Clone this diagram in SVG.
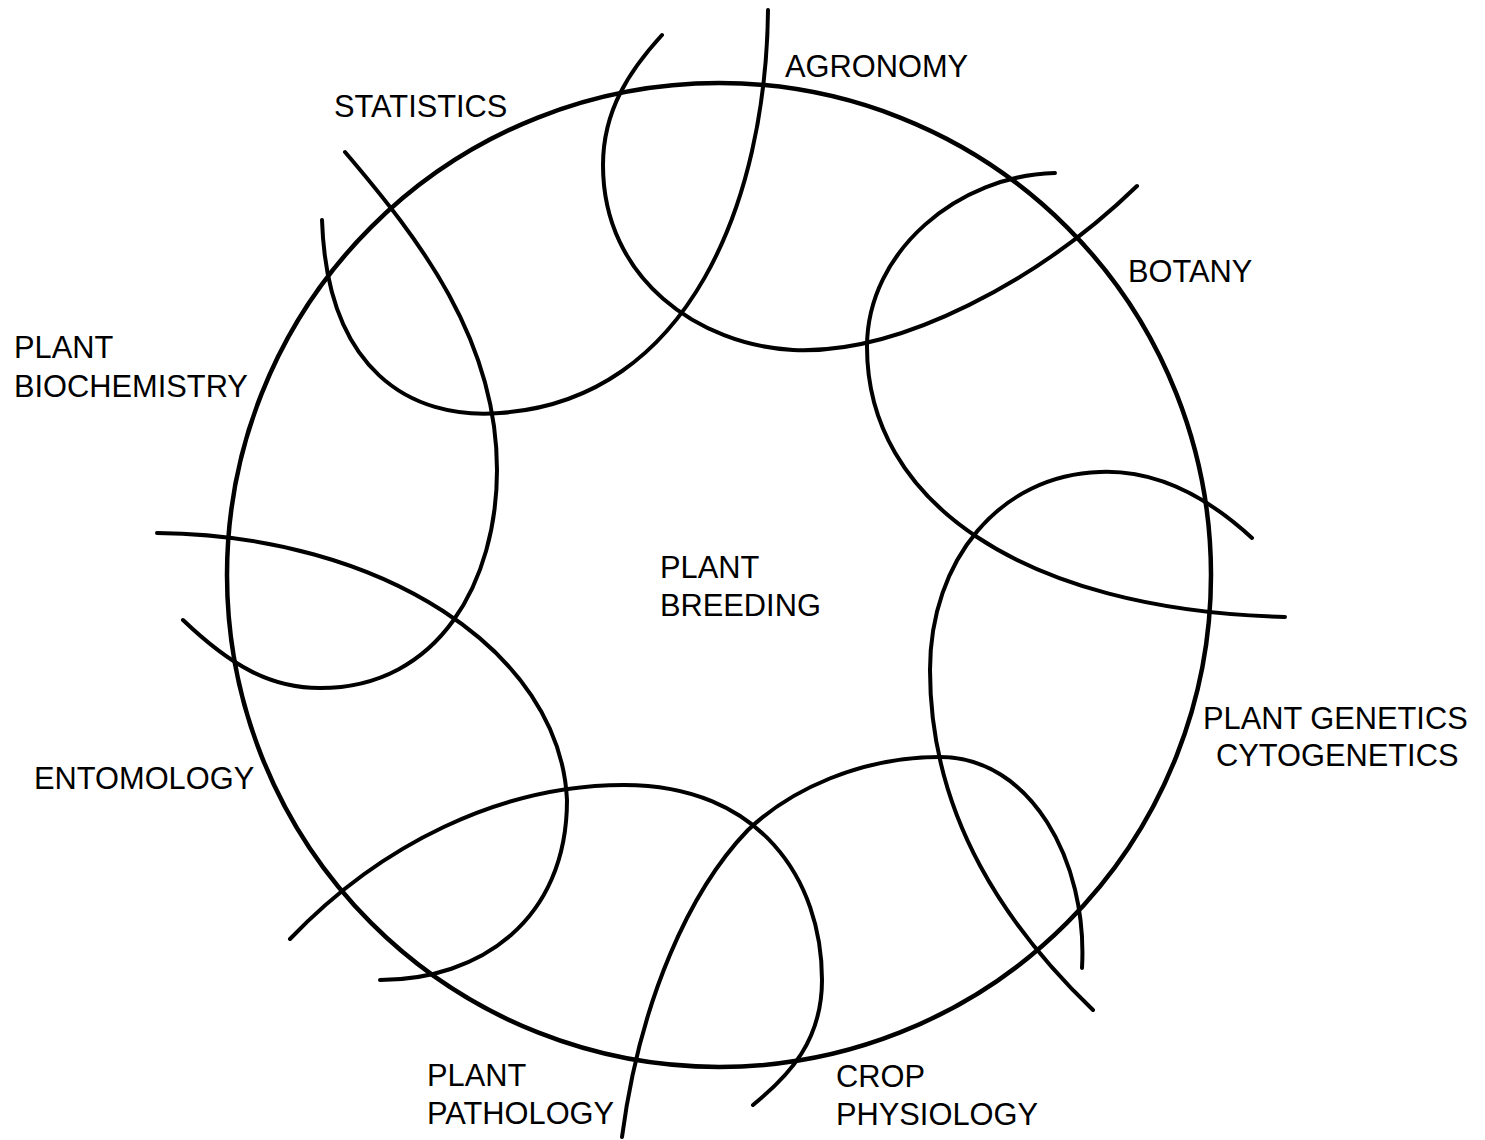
<svg xmlns="http://www.w3.org/2000/svg" width="1485" height="1140" viewBox="0 0 1485 1140">
<style>
  .ln { fill: none; stroke: #000; stroke-width: 4; stroke-linecap: round; stroke-linejoin: round; }
  .ring { fill: none; stroke: #000; stroke-width: 4.5; }
  .lbl { font-family: "Liberation Sans", Arial, sans-serif; font-size: 30.8px; fill: #000; }
</style>
<rect width="1485" height="1140" fill="#fff"/>
<g id="plant-breeding">
  <circle class="ring" cx="719" cy="575" r="492"/>
  <text class="lbl" x="660" y="578">PLANT</text>
  <text class="lbl" x="660" y="616">BREEDING</text>
</g>
<g id="connectors">
  <path id="c-agronomy" class="ln" d="M768,10 C766,200 690,400 500,413 C410,420 327,370 322,220"/>
  <path id="c-statistics" class="ln" d="M662,35 C630,70 603,110 603,165 C603,280 700,345 793,350 C900,355 1040,280 1137,186"/>
  <path id="c-botany" class="ln" d="M1055,173 C960,175 867,250 867,347 C867,500 1020,610 1285,617"/>
  <path id="c-genetics" class="ln" d="M1252,538 C1200,490 1150,470 1100,472 C1000,475 930,560 930,670 C930,820 1010,930 1093,1010"/>
  <path id="c-cropphys" class="ln" d="M1082,968 C1088,860 1030,757 940,757 C860,757 790,790 748,830 C690,890 640,1000 622,1137"/>
  <path id="c-pathology" class="ln" d="M290,939 C380,845 500,785 624,785 C760,785 822,880 822,980 C822,1040 790,1075 753,1105"/>
  <path id="c-entomology" class="ln" d="M157,533 C380,535 560,650 567,800 C567,920 480,980 380,980"/>
  <path id="c-biochem" class="ln" d="M183,620 C230,665 270,688 320,688 C440,688 497,580 497,470 C497,340 420,240 345,152"/>
</g>
<g id="agronomy"><text class="lbl" x="785" y="77">AGRONOMY</text></g>
<g id="statistics"><text class="lbl" x="334" y="117">STATISTICS</text></g>
<g id="botany"><text class="lbl" x="1128" y="282">BOTANY</text></g>
<g id="plant-biochemistry">
  <text class="lbl" x="14" y="358">PLANT</text>
  <text class="lbl" x="14" y="397">BIOCHEMISTRY</text>
</g>
<g id="plant-genetics">
  <text class="lbl" x="1203" y="729">PLANT GENETICS</text>
  <text class="lbl" x="1216" y="766">CYTOGENETICS</text>
</g>
<g id="entomology"><text class="lbl" x="34" y="789">ENTOMOLOGY</text></g>
<g id="plant-pathology">
  <text class="lbl" x="427" y="1086">PLANT</text>
  <text class="lbl" x="427" y="1124">PATHOLOGY</text>
</g>
<g id="crop-physiology">
  <text class="lbl" x="836" y="1087">CROP</text>
  <text class="lbl" x="836" y="1125">PHYSIOLOGY</text>
</g>
</svg>
